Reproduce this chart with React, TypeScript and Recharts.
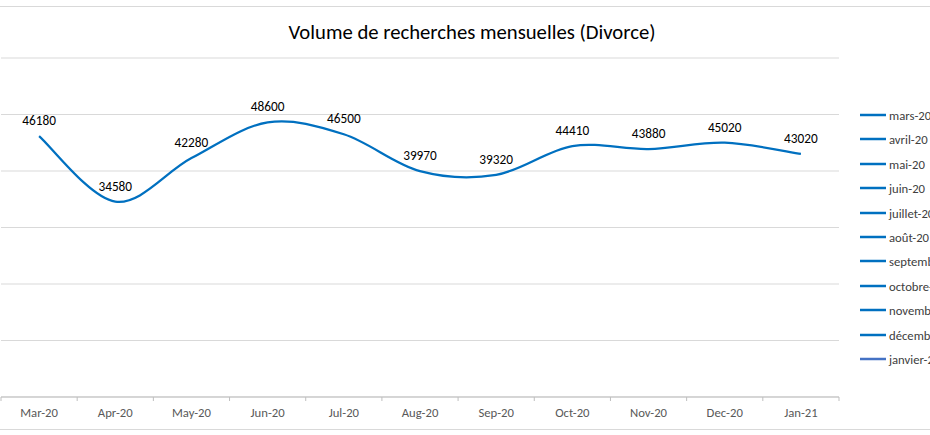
import React from "react";
import { LineChart, Line, XAxis, YAxis, CartesianGrid, LabelList } from "recharts";

const months = ["Mar-20", "Apr-20", "May-20", "Jun-20", "Jul-20", "Aug-20", "Sep-20", "Oct-20", "Nov-20", "Dec-20", "Jan-21"];
const volumes = [46180, 34580, 42280, 48600, 46500, 39970, 39320, 44410, 43880, 45020, 43020];
const legendNames = ["mars-20", "avril-20", "mai-20", "juin-20", "juillet-20", "août-20", "septembre-20", "octobre-20", "novembre-20", "décembre-20", "janvier-21"];
const yTicks = [0, 10000, 20000, 30000, 40000, 50000, 60000];

const data = months.map((m, i) => ({ month: m, volume: volumes[i] }));

const BLUE = "#0070C0";
const GRID = "#d9d9d9";
const FONT = "Calibri, Carlito, Lato, 'Open Sans', sans-serif";

const W = 930;
const H = 435;
const X_AXIS_H = 38;
const MARGIN = { top: 58, right: 91, bottom: 0, left: 1 };
const HALF_BAND = (W - MARGIN.left - MARGIN.right) / months.length / 2;

// Excel-like smoothed line (Catmull-Rom through the points)
function excelCurve(context: any) {
  let pts: number[][] = [];
  return {
    areaStart() {},
    areaEnd() {},
    lineStart() {
      pts = [];
    },
    point(x: number, y: number) {
      pts.push([+x, +y]);
    },
    lineEnd() {
      if (!pts.length) return;
      context.moveTo(pts[0][0], pts[0][1]);
      for (let i = 0; i < pts.length - 1; i++) {
        const p0 = pts[i - 1] || pts[i];
        const p1 = pts[i];
        const p2 = pts[i + 1];
        const p3 = pts[i + 2] || pts[i + 1];
        context.bezierCurveTo(
          p1[0] + (p2[0] - p0[0]) / 6,
          p1[1] + (p2[1] - p0[1]) / 6,
          p2[0] - (p3[0] - p1[0]) / 6,
          p2[1] - (p3[1] - p1[1]) / 6,
          p2[0],
          p2[1]
        );
      }
    },
  };
}

function MonthTick(props: any) {
  const { x, payload, index } = props;
  const last = index === months.length - 1;
  const axisY = H - X_AXIS_H;
  return (
    <g>
      <line x1={x - HALF_BAND} x2={x - HALF_BAND} y1={axisY} y2={axisY + 4} stroke="#bfbfbf" />
      {last && <line x1={x + HALF_BAND} x2={x + HALF_BAND} y1={axisY} y2={axisY + 4} stroke="#bfbfbf" />}
      <text x={x} y={axisY + 20} textAnchor="middle" fill="#595959" fontSize={12.7} fontFamily={FONT}>
        {payload.value}
      </text>
    </g>
  );
}

function MonthLegend() {
  return (
    <svg width={80} height={290} style={{ position: "absolute", left: 856, top: 100, overflow: "hidden" }}>
      {legendNames.map((name, i) => {
        const cy = Math.round(15 + i * 24.4);
        return (
          <g key={name}>
            <line
              x1={4}
              x2={30}
              y1={cy}
              y2={cy}
              stroke={i === legendNames.length - 1 ? "#4472C4" : BLUE}
              strokeWidth={2.5}
            />
            <text x={33} y={cy + 4.5} fontFamily={FONT} fontSize={12.7} fill="#404040">
              {name}
            </text>
          </g>
        );
      })}
    </svg>
  );
}

export default function App() {
  return (
    <div style={{ position: "relative", width: W, height: H, overflow: "hidden", background: "#fff" }}>
      <style>{`body{margin:0}`}</style>
      <div
        style={{
          position: "absolute",
          left: -5,
          top: 6,
          width: W + 10,
          height: 424,
          borderTop: `1px solid ${GRID}`,
          borderBottom: `1px solid ${GRID}`,
          boxSizing: "border-box",
        }}
      />
      <div
        style={{
          position: "absolute",
          top: 19,
          left: 0,
          width: 944,
          textAlign: "center",
          fontFamily: FONT,
          fontSize: 20.7,
          color: "#000",
        }}
      >
        Volume de recherches mensuelles (Divorce)
      </div>
      <div style={{ position: "absolute", left: 0, top: 0 }}>
        <LineChart width={W} height={H} data={data} margin={MARGIN}>
          <CartesianGrid horizontal vertical={false} stroke={GRID} />
          <XAxis
            dataKey="month"
            height={X_AXIS_H}
            padding={{ left: HALF_BAND, right: HALF_BAND }}
            axisLine={{ stroke: "#bfbfbf" }}
            tickLine={false}
            tick={<MonthTick />}
            interval={0}
          />
          <YAxis
            orientation="right"
            width={0}
            domain={[0, 60000]}
            ticks={yTicks}
            tick={() => <g />}
            tickLine={false}
            axisLine={{ stroke: GRID }}
          />
          <Line
            type={excelCurve as any}
            dataKey="volume"
            stroke={BLUE}
            strokeWidth={2.25}
            dot={false}
            isAnimationActive={false}
          >
            <LabelList dataKey="volume" position="top" offset={11} fill="#000" fontSize={13.3} fontFamily={FONT} />
          </Line>
        </LineChart>
      </div>
      <MonthLegend />
    </div>
  );
}
